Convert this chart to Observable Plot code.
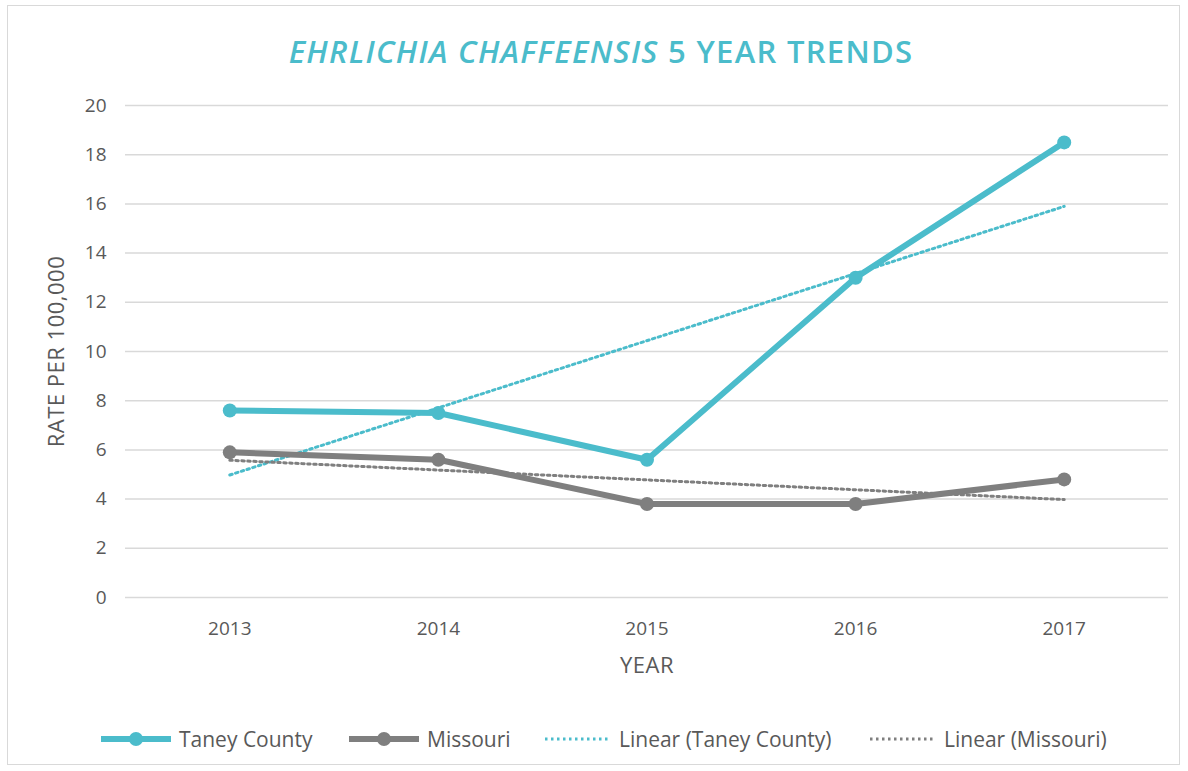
<!DOCTYPE html>
<html>
<head>
<meta charset="utf-8">
<script src="https://cdn.jsdelivr.net/npm/d3@7"></script>
<script src="https://cdn.jsdelivr.net/npm/@observablehq/plot@0.6"></script>
<style>
  html, body { margin: 0; padding: 0; background: #fff; }
  #frame { position: absolute; left: 7px; top: 5px; width: 1171px; height: 758px; border: 1.5px solid #d9d9d9; }
  #title { position: absolute; left: 7px; top: 30px; width: 1188px; text-align: center; font-family: "Open Sans", sans-serif; font-weight: 600; font-size: 31px; color: #4bbccb; letter-spacing: 1.3px; }
  #chart { position: absolute; left: 0; top: 80px; }
  #chart svg text { font-size: 19px; }
  #chart g[aria-label$="axis label"] text { font-size: 22px; letter-spacing: 0.5px; }
  #legend { position: absolute; left: 0; top: 722px; width: 1188px; height: 34px; font-family: "Open Sans", sans-serif; font-size: 21px; color: #595959; }
  .item { position: absolute; top: 0; display: flex; align-items: center; height: 34px; }
  .item svg { margin-right: 8px; }
</style>
</head>
<body>
<div id="frame"></div>
<div id="title"><i>EHRLICHIA CHAFFEENSIS</i> 5 YEAR TRENDS</div>
<div id="chart"></div>
<div id="legend"></div>
<script>
const years = [2013, 2014, 2015, 2016, 2017];
const taneyCounty = [7.6, 7.5, 5.6, 13.0, 18.5];
const missouri = [5.9, 5.6, 3.8, 3.8, 4.8];
const yTicks = [0, 2, 4, 6, 8, 10, 12, 14, 16, 18, 20];
const seriesNames = ["Taney County", "Missouri", "Linear (Taney County)", "Linear (Missouri)"];

const teal = "#4bbccb";
const gray = "#7f7f7f";
const tickFont = "'Open Sans', sans-serif";

const taneyData = years.map((y, i) => ({year: y, value: taneyCounty[i]}));
const moData = years.map((y, i) => ({year: y, value: missouri[i]}));

const chart = Plot.plot({
  width: 1188,
  height: 607,
  marginTop: 25,
  marginLeft: 125,
  marginRight: 20,
  marginBottom: 90,
  style: {fontFamily: tickFont, fontSize: "19px", color: "#595959", background: "transparent"},
  x: {domain: [2012.5, 2017.5], ticks: years, tickFormat: d => String(d)},
  y: {domain: [0, 20], ticks: yTicks},
  marks: [
    Plot.gridY(yTicks, {stroke: "#d9d9d9", strokeOpacity: 1, strokeWidth: 1.5}),
    Plot.axisY(yTicks, {tickSize: 0, tickPadding: 19, label: "RATE PER 100,000", labelAnchor: "center", labelArrow: "none", labelOffset: 77}),
    Plot.axisX(years, {tickSize: 0, tickPadding: 24, tickFormat: d => String(d), label: "YEAR", labelAnchor: "center", labelArrow: "none", labelOffset: 75}),
    Plot.linearRegressionY(taneyData, {x: "year", y: "value", ci: 0, stroke: teal, strokeWidth: 3, strokeDasharray: "2.5,3.5"}),
    Plot.linearRegressionY(moData, {x: "year", y: "value", ci: 0, stroke: gray, strokeWidth: 3, strokeDasharray: "2.5,3.5"}),
    Plot.line(moData, {x: "year", y: "value", stroke: gray, strokeWidth: 6, strokeLinejoin: "round"}),
    Plot.dot(moData, {x: "year", y: "value", fill: gray, r: 7}),
    Plot.line(taneyData, {x: "year", y: "value", stroke: teal, strokeWidth: 6, strokeLinejoin: "round"}),
    Plot.dot(taneyData, {x: "year", y: "value", fill: teal, r: 7})
  ]
});
document.getElementById("chart").appendChild(chart);

// legend
const legendItems = [
  {name: seriesNames[0], color: teal, dotted: false, left: 101},
  {name: seriesNames[1], color: gray, dotted: false, left: 349},
  {name: seriesNames[2], color: teal, dotted: true, left: 543},
  {name: seriesNames[3], color: gray, dotted: true, left: 868}
];
const legend = document.getElementById("legend");
for (const it of legendItems) {
  const div = document.createElement("div");
  div.className = "item";
  div.style.left = it.left + "px";
  const w = it.dotted ? 68 : 70;
  let sw = `<svg width="${w}" height="20">`;
  if (it.dotted) {
    sw += `<line x1="2" y1="10" x2="${w - 2}" y2="10" stroke="${it.color}" stroke-width="3" stroke-dasharray="2.5,3.5"/>`;
  } else {
    sw += `<line x1="0" y1="10" x2="${w}" y2="10" stroke="${it.color}" stroke-width="6"/><circle cx="${w / 2}" cy="10" r="7" fill="${it.color}"/>`;
  }
  sw += `</svg>`;
  div.innerHTML = sw + `<span>${it.name}</span>`;
  legend.appendChild(div);
}
</script>
</body>
</html>
